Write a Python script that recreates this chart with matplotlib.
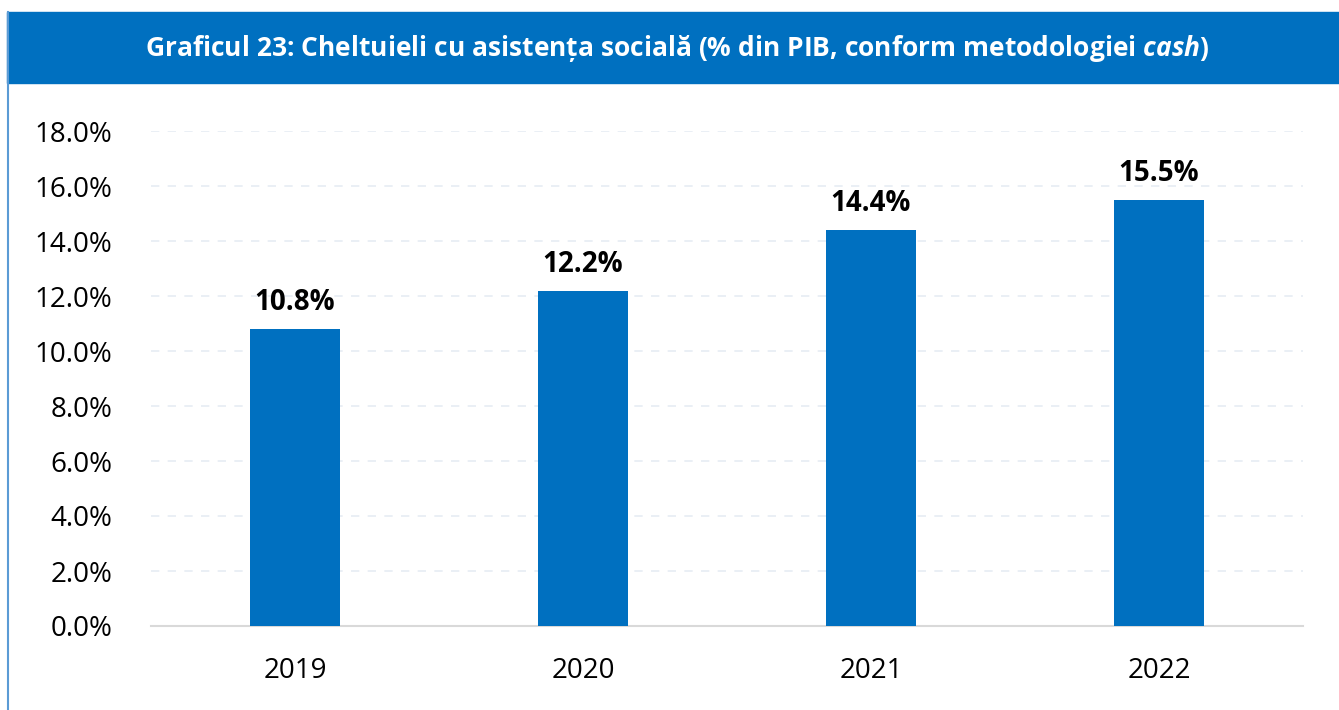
import matplotlib.pyplot as plt
from matplotlib.patches import Rectangle
from matplotlib.lines import Line2D

# Data
years = ['2019', '2020', '2021', '2022']
values = [10.8, 12.2, 14.4, 15.5]
yticks = [0, 2, 4, 6, 8, 10, 12, 14, 16, 18]

blue = '#0070C0'
plt.rcParams['font.family'] = ['Open Sans', 'DejaVu Sans']
plt.rcParams['mathtext.fontset'] = 'custom'
plt.rcParams['mathtext.it'] = 'Open Sans:italic:bold'
plt.rcParams['mathtext.rm'] = 'Open Sans:bold'

fig = plt.figure(figsize=(13.39, 7.10), dpi=100)
W, H = 1339, 710

# Title bar and left border
fig.patches.append(Rectangle((7 / W, 1 - 83 / H), 1 - 7 / W, 71 / H,
                             transform=fig.transFigure, color=blue, zorder=0))
fig.lines.append(Line2D([7.5 / W, 7.5 / W], [0, 1 - 12 / H],
                        transform=fig.transFigure, color='#5B9BD5', lw=1.5))
fig.text(677 / W, 1 - 48 / H,
         r'Graficul 23: Cheltuieli cu asistența socială (% din PIB, conform metodologiei $\mathit{cash}$)',
         color='white', fontsize=19, fontweight='bold', ha='center', va='center')

ax = fig.add_axes([151 / W, 1 - 626 / H, 1152 / W, 495 / H])
x = range(len(years))
bars = ax.bar(x, values, width=0.31, color=blue, zorder=3)

# Value labels above bars
for i, v in enumerate(values):
    ax.text(i, v + 0.42, f'{v:.1f}%', ha='center', va='bottom',
            fontsize=20, fontweight='bold')

ax.set_xlim(-0.5, len(years) - 0.5)
ax.set_ylim(0, 18)
ax.set_yticks(yticks)
ax.set_yticklabels([f'{t:.1f}%' for t in yticks], fontsize=20)
ax.set_xticks(list(x))
ax.set_xticklabels(years, fontsize=20)
ax.tick_params(length=0, pad=28)
ax.tick_params(axis='x', pad=22)

ax.grid(axis='y', color='#E6ECF4', linestyle=(0, (5, 5)), lw=1.2, zorder=0)
for s in ['top', 'right', 'left']:
    ax.spines[s].set_visible(False)
ax.spines['bottom'].set_color('#D9D9D9')
ax.spines['bottom'].set_linewidth(1.5)

fig.savefig('out.png', dpi=100)
